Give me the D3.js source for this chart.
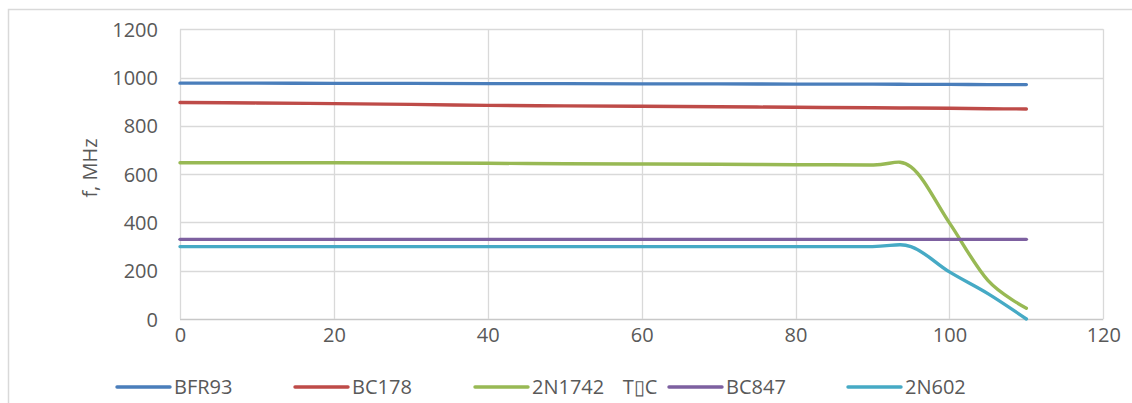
<!DOCTYPE html>
<html><head><meta charset="utf-8">
<script src="https://cdn.jsdelivr.net/npm/d3@7"></script>
<style>
html,body{margin:0;padding:0;background:#fff;}
svg text{font-family:"Open Sans",sans-serif;fill:#595959;}
</style></head>
<body><svg id="c" width="1132" height="403"></svg>
<script>
const temps = [0,10,20,30,40,50,60,70,80,90,95,100,105,110];
const seriesNames = ["BFR93","BC178","2N1742","BC847","2N602"];
const seriesColors = ["#4a7ebb","#be4b48","#98b954","#7d60a0","#46aac5"];
const bfr93  = [977,977,976,976,975,975,974,974,973,973,972,972,971,971];
const bc178  = [897,895,892,889,885,883,881,879,877,875,874,873,871,870];
const n2n1742= [647,647,647,646,645,643,642,641,639,638,630,398,160,45];
const bc847  = [330,330,330,330,330,330,330,330,330,330,330,330,330,330];
const n2n602 = [300,300,300,300,300,300,300,300,300,300,300,195,105,0];
const xTicks = [0,20,40,60,80,100,120];
const yTicks = [0,200,400,600,800,1000,1200];
const yTitle = "f, MHz";
const xTitle = "T\u25AFC";

const FS = 20;
const allSeries = [bfr93,bc178,n2n1742,bc847,n2n602];
const svg = d3.select("#c");
const L=180, R=1103.3, T=29.3, B=319;
const x = d3.scaleLinear().domain([0,120]).range([L,R]);
const y = d3.scaleLinear().domain([0,1200]).range([B,T]);

// outer border
svg.append("rect").attr("x",8.5).attr("y",9.5).attr("width",1140).attr("height",420)
  .attr("fill","none").attr("stroke","#d9d9d9").attr("stroke-width",1.5);

// gridlines
const g = svg.append("g");
g.selectAll(".hg").data(yTicks).enter().append("line")
  .attr("x1",L).attr("x2",R).attr("y1",d=>Math.round(y(d))+0.5).attr("y2",d=>Math.round(y(d))+0.5)
  .attr("stroke",d=>d===0?"#c8c8c8":"#d9d9d9").attr("stroke-width",1.3);
g.selectAll(".vg").data(xTicks).enter().append("line")
  .attr("y1",T).attr("y2",B).attr("x1",d=>Math.round(x(d))+0.5).attr("x2",d=>Math.round(x(d))+0.5)
  .attr("stroke","#d9d9d9").attr("stroke-width",1.3);

// axes labels
const yAxis = d3.axisLeft(y).tickValues(yTicks).tickFormat(d3.format("d")).tickSize(0).tickPadding(22);
const ya = svg.append("g").attr("transform",`translate(${L},0)`).call(yAxis);
ya.select(".domain").remove();
ya.selectAll("text").attr("font-size",FS).attr("font-family","Open Sans").attr("fill","#595959").attr("dy","0.35em");
const xAxis = d3.axisBottom(x).tickValues(xTicks).tickFormat(d3.format("d")).tickSize(0).tickPadding(23);
const xa = svg.append("g").attr("transform",`translate(0,${B})`).call(xAxis);
xa.select(".domain").remove();
xa.selectAll("text").attr("font-size",FS).attr("font-family","Open Sans").attr("fill","#595959").attr("dy","0");

// titles
svg.append("text").attr("transform","translate(97,168) rotate(-90)").attr("text-anchor","middle")
  .attr("font-size",FS).text(yTitle);
svg.append("text").attr("x",640).attr("y",394).attr("text-anchor","middle")
  .attr("font-size",FS).text(xTitle);

// lines
const line = d3.line().x((d,i)=>x(temps[i])).y(d=>y(d)).curve(d3.curveCardinal.tension(0));
allSeries.forEach((s,i)=>{
  svg.append("path").attr("d",line(s)).attr("fill","none")
    .attr("stroke",seriesColors[i]).attr("stroke-width",3.4).attr("stroke-linecap","round");
});

// legend
const legX = [117,295,475,669,848];
seriesNames.forEach((n,i)=>{
  svg.append("line").attr("x1",legX[i]).attr("x2",legX[i]+53).attr("y1",387).attr("y2",387)
    .attr("stroke",seriesColors[i]).attr("stroke-width",3.4).attr("stroke-linecap","round");
  svg.append("text").attr("x",legX[i]+57).attr("y",394).attr("font-size",FS).text(n);
});
</script></body></html>
